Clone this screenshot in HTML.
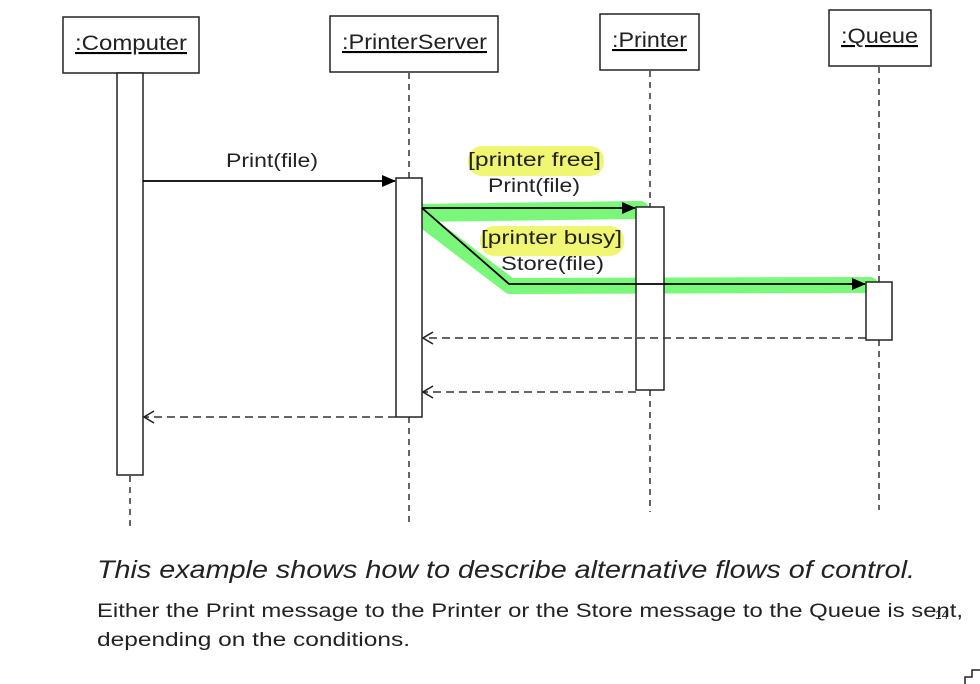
<!DOCTYPE html>
<html><head><meta charset="utf-8"><style>
html,body{margin:0;padding:0;background:#fff;width:980px;height:684px;overflow:hidden}
svg{position:absolute;left:0;top:0}
text{font-family:"Liberation Sans",sans-serif;fill:#222}
</style></head><body>
<svg width="980" height="684" viewBox="0 0 980 684">
<defs>
<marker id="f" markerWidth="14" markerHeight="12" refX="13" refY="6" orient="auto" markerUnits="userSpaceOnUse"><path d="M0,0 L14,6 L0,12 Z" fill="#000"/></marker>
<marker id="o" markerWidth="14" markerHeight="14" refX="12" refY="7" orient="auto" markerUnits="userSpaceOnUse"><path d="M2,1 L12,7 L2,13" fill="none" stroke="#222" stroke-width="1.6"/></marker>
</defs>
<g fill="#eef55a" opacity="0.85">
<rect x="468" y="146" width="136" height="30" rx="14"/>
<rect x="480" y="226" width="144" height="30" rx="14"/>
</g>
<g stroke="#6cf76c" stroke-linecap="round" stroke-linejoin="round" fill="none" opacity="0.9">
<path d="M414,213 L640,210" stroke-width="18"/>
<path d="M418,216 L510,286 L870,285" stroke-width="16"/>
</g>
<g stroke="#333" stroke-width="1.5" stroke-dasharray="6,5" fill="none">
<line x1="130" y1="476" x2="130" y2="526"/>
<line x1="409" y1="73" x2="409" y2="178"/>
<line x1="409" y1="417" x2="409" y2="526"/>
<line x1="650" y1="71" x2="650" y2="207"/>
<line x1="650" y1="390" x2="650" y2="512"/>
<line x1="879" y1="67" x2="879" y2="282"/>
<line x1="879" y1="340" x2="879" y2="510"/>
</g>
<g fill="#fff" stroke="#222" stroke-width="1.5">
<rect x="63" y="17" width="136" height="56"/>
<rect x="330" y="16" width="168" height="56"/>
<rect x="600" y="14" width="99" height="56"/>
<rect x="829" y="10" width="102" height="56"/>
<rect x="117" y="73" width="26" height="402"/>
<rect x="396" y="178" width="26" height="239"/>
<rect x="636" y="207" width="28" height="183"/>
<rect x="866" y="282" width="26" height="58"/>
</g>
<g font-size="21" text-decoration="underline">
<text x="75" y="50" textLength="112" lengthAdjust="spacingAndGlyphs">:Computer</text>
<text x="342" y="49" textLength="145" lengthAdjust="spacingAndGlyphs">:PrinterServer</text>
<text x="612" y="47" textLength="75" lengthAdjust="spacingAndGlyphs">:Printer</text>
<text x="841" y="43" textLength="77" lengthAdjust="spacingAndGlyphs">:Queue</text>
</g>
<g stroke="#000" stroke-width="1.8" fill="none">
<line x1="143" y1="181" x2="395" y2="181" marker-end="url(#f)"/>
<line x1="422" y1="208" x2="635" y2="208" marker-end="url(#f)"/>
<polyline points="422,208 509,284 865,284" marker-end="url(#f)"/>
</g>
<g stroke="#333" stroke-width="1.5" stroke-dasharray="8,5" fill="none">
<line x1="866" y1="338" x2="423" y2="338" marker-end="url(#o)"/>
<line x1="636" y1="392" x2="423" y2="392" marker-end="url(#o)"/>
<line x1="396" y1="417" x2="144" y2="417" marker-end="url(#o)"/>
</g>
<g font-size="19">
<text x="226" y="167" textLength="92" lengthAdjust="spacingAndGlyphs">Print(file)</text>
<text x="468" y="166" textLength="133" lengthAdjust="spacingAndGlyphs">[printer free]</text>
<text x="488" y="192" textLength="92" lengthAdjust="spacingAndGlyphs">Print(file)</text>
<text x="481" y="244" textLength="141" lengthAdjust="spacingAndGlyphs">[printer busy]</text>
<text x="501" y="270" textLength="103" lengthAdjust="spacingAndGlyphs">Store(file)</text>
</g>
<text x="97" y="578" font-size="25" font-style="italic" textLength="818" lengthAdjust="spacingAndGlyphs">This example shows how to describe alternative flows of control.</text>
<text x="97" y="617" font-size="19.5" textLength="866" lengthAdjust="spacingAndGlyphs">Either the Print message to the Printer or the Store message to the Queue is sent,</text>
<text x="97" y="646" font-size="19.5" textLength="313" lengthAdjust="spacingAndGlyphs">depending on the conditions.</text>
<text x="935" y="619" font-size="12">14</text>
<path d="M965,684 L965,677 L972,677 L972,670 L980,670" stroke="#222" stroke-width="1.5" fill="none"/>
</svg>
</body></html>
